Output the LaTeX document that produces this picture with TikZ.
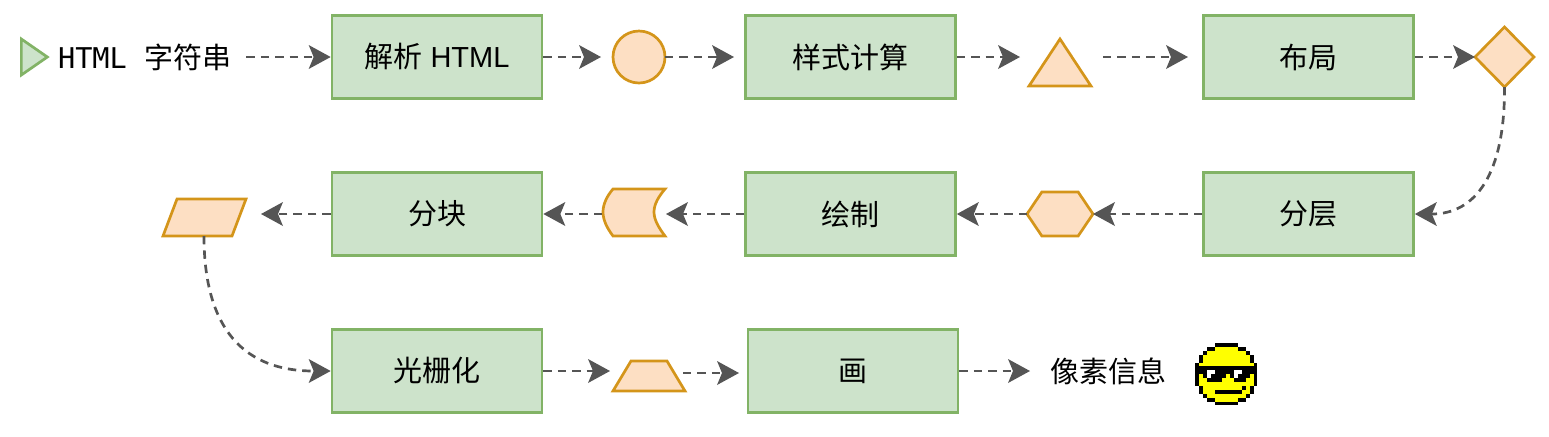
\documentclass[tikz,border=0pt]{standalone}
\usepackage{fontspec}
\setmainfont{Liberation Sans}
\newfontfamily\cjk{Noto Sans CJK SC}
\newfontfamily\htmlmono{DejaVu Sans Mono}
\usetikzlibrary{arrows.meta,shapes.geometric,shapes.symbols}
\definecolor{boxfill}{HTML}{CDE3CB}
\definecolor{boxline}{HTML}{82B366}
\definecolor{markfill}{HTML}{FDDFC3}
\definecolor{markline}{HTML}{D4951A}
\definecolor{flowgray}{HTML}{555555}
\definecolor{faceyellow}{HTML}{FFFF00}
\tikzset{
  stage/.style={draw=boxline,fill=boxfill,line width=1.35pt,minimum width=105pt,minimum height=41.5pt,
    inner sep=0pt,text=black,font=\fontsize{14.5}{17}\selectfont},
  marker/.style={draw=markline,fill=markfill,line width=1.35pt,inner sep=0pt,outer sep=0pt},
  flow/.style={draw=flowgray,line width=1.35pt,dash pattern=on 4.2pt off 3pt,
    -{Stealth[length=11pt,width=12pt,inset=2.5pt,line width=0pt]}},
  plain label/.style={text=black,font=\fontsize{14.5}{17}\selectfont},
}
\begin{document}
\begin{tikzpicture}[x=0.5pt,y=-0.5pt]
  \useasboundingbox (0,0) rectangle (1549,436);
  % first row
  \node [draw=boxline,fill=boxfill,line width=1.35pt,isosceles triangle,isosceles triangle stretches,
         minimum width=18pt,minimum height=13pt,inner sep=0pt,anchor=lower side] (start) at (20,57) {};
  \node [plain label,inner sep=7pt] (source) at (145,57) {{\fontsize{14.3}{17}\htmlmono HTML} {\cjk\hspace{5pt}字符串}};
  \node [stage] (parse) at (437,57) {{\cjk 解析} HTML};
  \node [marker,circle,minimum size=26pt] (dom) at (639,57) {};
  \node [stage] (style) at (850.5,57) {\cjk 样式计算};
  \node [marker,isosceles triangle,isosceles triangle stretches,shape border rotate=90,
         minimum width=31pt,minimum height=23.5pt,anchor=lower side] (styled) at (1060,86) {};
  \node [stage] (layout) at (1308.5,57) {\cjk 布局};
  \node [marker,diamond,minimum width=29.5pt,minimum height=30pt] (tree) at (1504.5,57) {};
  % second row
  \node [stage] (layer) at (1308.5,214) {\cjk 分层};
  \node [marker,signal,signal to=east and west,signal pointer angle=112,
         minimum width=33pt,minimum height=22pt] (layers) at (1060,214) {};
  \node [stage] (paint) at (850.5,214) {\cjk 绘制};
  \coordinate (recordIn) at (666,214);
  \coordinate (recordOut) at (602,214);
  \draw [marker] (665,189) -- (613,189) .. controls (607,196) and (603,204) .. (603,212)
    .. controls (603,220) and (607,228) .. (613,236) -- (665,236)
    .. controls (659,228) and (654,220) .. (654,212) .. controls (654,204) and (659,196) .. (665,189) -- cycle;
  \node [stage] (tile) at (437,214) {\cjk 分块};
  \coordinate (tilesIn) at (261,214);
  \coordinate (tilesOut) at (204,236);
  \draw [marker] (177,199) -- (246,199) -- (232,236) -- (163,236) -- cycle;
  % third row
  \node [stage] (raster) at (437,371) {\cjk 光栅化};
  \draw [marker] (631,361) -- (667,361) -- (685,391) -- (613,391) -- cycle;
  \node [stage] (drawing) at (853,371) {\cjk 画};
  \coordinate (pixelIn) at (1030,371);
  \node [plain label] (pixel) at (1108,371) {\cjk 像素信息};
  % the face, one run of pixels at a time
  \foreach \py/\xa/\xb/\col in {1/5/10/faceyellow,2/3/12/faceyellow,3/2/13/faceyellow,4/2/13/faceyellow,
      5/1/14/faceyellow,6/1/14/faceyellow,7/1/14/faceyellow,8/1/14/faceyellow,9/1/14/faceyellow,10/1/14/faceyellow,
      11/2/13/faceyellow,12/2/13/faceyellow,13/3/12/faceyellow,14/5/10/faceyellow,
      0/5/10/black,15/5/10/black,1/3/4/black,1/11/12/black,14/3/4/black,14/11/12/black,
      2/2/2/black,2/13/13/black,13/2/2/black,13/13/13/black,3/1/1/black,3/14/14/black,4/1/1/black,4/14/14/black,
      11/1/1/black,11/14/14/black,12/1/1/black,12/14/14/black,
      5/0/0/black,5/15/15/black,6/0/15/black,7/0/15/black,
      8/0/0/black,8/15/15/black,8/2/7/black,8/9/13/black,
      9/0/0/black,9/15/15/black,9/3/6/black,9/10/12/black,
      10/0/0/black,10/15/15/black,11/12/12/black,12/5/11/black,
      7/3/4/white,7/10/11/white,8/3/3/white,8/10/10/white}
    \fill [\col] (1195+\xa*3.9,343+\py*3.9) rectangle +(\xb*3.9-\xa*3.9+3.9,3.9);
  % connectors
  \coordinate (domIn) at (601,57);
  \coordinate (styleIn) at (734,57);
  \coordinate (styledIn) at (1020,57);
  \coordinate (styledOut) at (1103,57);
  \coordinate (layoutIn) at (1188,57);
  \coordinate (bitmapOut) at (683,373);
  \coordinate (drawIn) at (739,373);
  \coordinate (bitmapIn) at (610,371);
  \draw [flow] (source.east) -- (parse.west);
  \draw [flow] (parse.east) -- (domIn);
  \draw [flow] (dom.east) -- (styleIn);
  \draw [flow] (style.east) -- (styledIn);
  \draw [flow] (styledOut) -- (layoutIn);
  \draw [flow] (layout.east) -- (tree.west);
  \draw [flow] (tree.south) .. controls (1505,175) and (1475,214) .. (layer.east);
  \draw [flow] (layer.west) -- (layers.east);
  \draw [flow] (layers.west) -- (paint.east);
  \draw [flow] (paint.west) -- (recordIn);
  \draw [flow] (recordOut) -- (tile.east);
  \draw [flow] (tile.west) -- (tilesIn);
  \draw [flow] (tilesOut) .. controls (204,330) and (245,371) .. (raster.west);
  \draw [flow] (raster.east) -- (bitmapIn);
  \draw [flow] (bitmapOut) -- (drawIn);
  \draw [flow] (drawing.east) -- (pixelIn);
\end{tikzpicture}
\end{document}
